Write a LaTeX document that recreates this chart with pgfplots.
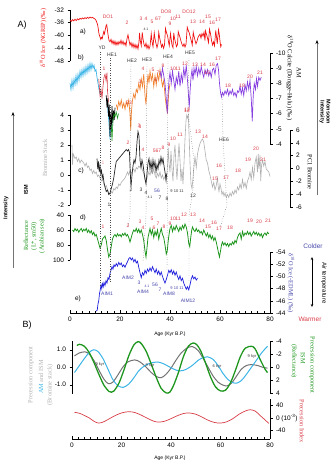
\documentclass[border=0pt]{standalone}
\usepackage{fontspec}
\setmainfont{Liberation Sans}
\newfontfamily\serif{Liberation Serif}
\usepackage{pgfplots}
\pgfplotsset{compat=1.18}
\usetikzlibrary{arrows.meta}
\definecolor{ngrip}{RGB}{240,20,20}
\definecolor{lblred}{RGB}{215,60,70}
\definecolor{cyanb}{RGB}{60,180,230}
\definecolor{orangec}{RGB}{240,130,50}
\definecolor{purplec}{RGB}{135,65,225}
\definecolor{greenc}{RGB}{30,150,30}
\definecolor{bluee}{RGB}{30,30,220}
\definecolor{grayb}{RGB}{175,175,175}
\definecolor{aimlbl}{RGB}{70,70,170}
\definecolor{grayB}{RGB}{115,115,115}
\pgfplotsset{
 base0/.style={scale only axis, width=200pt, xmin=0, xmax=80, clip=false,
   anchor=south west, tick align=outside, major tick length=2.5pt,
   every tick label/.append style={font=\fontsize{6.5}{7}\selectfont},
   /pgf/number format/assume math mode=true,
   axis line style={line width=0.5pt}, every tick/.style={black, line width=0.5pt}},
 base/.style={base0, hide x axis},
 xonly/.style={base0, height=20pt, ymin=0, ymax=1, hide y axis, axis x line*=bottom, xtick={0,20,...,80}, minor x tick num=7, tick align=inside, major tick length=3pt, minor tick length=2pt, xtick pos=bottom},
}
\newcommand{\lb}[3]{\node[text=lblred, font=\fontsize{5}{5}\selectfont, inner sep=0pt] at (#1,-#2) {#3};}
\newcommand{\kb}[3]{\node[text=black!80, font=\fontsize{5}{5}\selectfont, inner sep=0pt] at (#1,-#2) {#3};}
\newcommand{\ab}[3]{\node[text=aimlbl, font=\fontsize{5}{5}\selectfont, inner sep=0pt] at (#1,-#2) {#3};}
\begin{document}
\begin{tikzpicture}[x=1pt,y=1pt]
\path[use as bounding box] (0pt,0pt) rectangle (334pt,-463pt);
% ---------- a) NGRIP
\begin{axis}[base, at={(70pt,-61pt)}, height=51pt, ymin=-48, ymax=-32, axis y line*=left, ytick={-48,-44,-40,-36,-32}]
\addplot[ngrip, line width=0.7pt] coordinates {
(0,-35.2)(0.5,-35.6)(1,-35.0)(1.5,-35.4)(2,-34.9)(2.5,-35.3)(3,-34.8)(3.5,-35.1)(4,-34.6)(4.5,-34.9)(5,-34.5)(5.5,-34.8)(6,-34.4)(6.5,-34.7)(7,-34.3)(7.5,-34.6)(8,-34.2)(8.5,-34.5)(9,-34.3)(9.5,-34.6)(10,-34.8)(10.5,-35.4)(11,-36.5)(11.3,-37.8)(11.6,-39.5)(12,-40.5)(12.3,-41.2)(12.6,-40.6)(12.9,-41.0)(13.2,-39.8)(13.5,-38.8)(13.8,-39.5)(14.1,-38.2)(14.4,-37.0)(14.7,-36.6)(15,-38.5)(15.3,-40.2)(15.6,-41.5)(16,-42.0)(16.4,-41.2)(16.8,-42.5)(17.2,-41.6)(17.6,-42.8)(18,-41.8)(18.4,-43.0)(18.8,-42.0)(19.2,-42.9)(19.6,-41.9)(20,-42.6)(20.4,-41.5)(20.8,-42.7)(21.2,-41.8)(21.6,-42.9)(22,-42.2)(22.4,-43.2)(22.8,-41.0)(23.2,-39.8)(23.6,-41.5)(24,-43.0)(24.4,-42.2)(24.8,-43.6)(25.2,-42.5)(25.6,-43.8)(26,-42.8)(26.4,-44.0)(26.8,-43.0)(27.2,-44.2)(27.6,-42.0)(27.8,-39.2)(28.1,-41.5)(28.5,-43.2)(28.9,-39.0)(29.2,-41.0)(29.6,-42.8)(30,-43.5)(30.4,-42.4)(30.8,-44.0)(31.2,-43.0)(31.6,-44.2)(32,-43.4)(32.5,-39.5)(32.8,-41.8)(33.2,-43.5)(33.7,-39.2)(34.0,-41.0)(34.4,-42.5)(34.8,-43.8)(35.2,-42.6)(35.5,-39.0)(35.8,-40.5)(36.2,-42.0)(36.6,-43.6)(37,-42.8)(37.4,-44.0)(37.8,-43.0)(38.2,-37.8)(38.5,-38.8)(38.8,-39.6)(39.1,-40.4)(39.4,-42.0)(39.7,-43.2)(40.2,-39.4)(40.5,-41.2)(40.8,-43.0)(41.2,-43.8)(41.5,-39.2)(41.8,-40.8)(42.2,-42.2)(42.6,-43.5)(43.0,-42.8)(43.3,-38.8)(43.6,-39.6)(44.0,-40.6)(44.4,-41.8)(44.8,-42.8)(45.2,-43.4)(45.6,-42.6)(46.0,-43.6)(46.4,-42.8)(46.9,-37.4)(47.3,-38.4)(47.7,-39.2)(48.1,-40.4)(48.5,-41.6)(48.9,-43.0)(49.3,-39.0)(49.6,-40.2)(50.0,-41.5)(50.4,-42.6)(50.8,-41.8)(51.2,-40.6)(51.6,-40.0)(52.0,-39.6)(52.4,-40.8)(52.8,-39.4)(53.2,-40.2)(53.6,-39.0)(54.0,-41.6)(54.2,-38.6)(54.6,-39.6)(55.0,-40.8)(55.4,-42.2)(55.8,-38.0)(56.2,-39.4)(56.6,-41.5)(57.0,-43.0)(57.4,-42.0)(57.8,-43.2)(58.3,-38.4)(58.6,-40.4)(58.9,-42.6)(59.2,-40.0)(59.4,-38.2)(59.7,-39.5)(60.0,-41.8)(60.3,-43.5)(60.6,-42.8)};
\end{axis}
% ---------- b) Dongge-Hulu
\begin{axis}[base, at={(70pt,-144pt)}, height=91pt, ymin=-10, ymax=-4, y dir=reverse, axis y line*=right, ytick={-10,-9,...,-4}]
\addplot[cyanb, line width=0.7pt] coordinates {
(0,-8.0)(0.4,-7.6)(0.8,-8.2)(1.2,-7.7)(1.6,-8.3)(2,-7.9)(2.4,-8.5)(2.8,-8.0)(3.2,-8.6)(3.6,-8.2)(4,-8.8)(4.4,-8.4)(4.8,-8.9)(5.2,-8.5)(5.6,-9.0)(6,-8.6)(6.4,-9.1)(6.8,-8.7)(7.2,-9.2)(7.6,-8.8)(8,-9.3)(8.4,-8.9)(8.8,-9.3)(9.2,-9.0)(9.6,-9.2)(10,-8.8)(10.4,-8.9)(10.8,-8.4)(11.2,-8.0)(11.6,-7.6)(12,-7.3)};
\addplot[cyanb, line width=0.6pt] coordinates {(14.8,-7.0)(15.0,-6.5)(15.5,-5.5)(16.0,-4.3)(16.3,-5.2)(16.6,-4.8)(17,-5.8)};
\addplot[lblred, line width=0.6pt] coordinates {(11.5,-8.3)(12,-7.2)(12.4,-7.6)(12.8,-7.0)(13.2,-7.8)(13.6,-8.4)(14,-8.6)(14.4,-8.2)(14.8,-8.7)(15,-7.5)(15.4,-6.8)};
\addplot[orangec, line width=0.7pt] coordinates {
(18.5,-6.6)(19,-6.3)(19.5,-6.8)(20,-6.5)(20.5,-6.9)(21,-6.4)(21.5,-6.7)(22,-6.3)(22.5,-6.8)(23,-6.5)(23.5,-6.9)(24,-6.0)(24.3,-4.9)(24.6,-6.2)(25,-6.9)(25.5,-7.3)(26,-7.0)(26.5,-7.6)(27,-7.4)(27.5,-8.0)(28,-7.6)(28.5,-8.3)(29,-7.8)(29.5,-8.6)(30,-7.2)(30.4,-6.6)(30.8,-7.8)(31.2,-8.6)(31.6,-8.0)(32,-8.8)(32.5,-8.2)(33,-8.6)(33.5,-7.8)(34,-8.5)(34.5,-7.9)(35,-8.6)(35.5,-8.2)(36,-8.9)(36.5,-8.3)(37,-7.8)(37.5,-8.2)(38,-7.2)(38.5,-6.5)(39,-6.1)(39.5,-7.4)(40,-8.0)};
\addplot[purplec, line width=0.7pt] coordinates {
(36,-8.8)(36.5,-8.4)(37,-9.0)(37.5,-8.5)(38,-8.0)(38.5,-7.0)(38.9,-6.0)(39.2,-7.2)(39.6,-8.2)(40,-8.7)(40.5,-8.0)(41,-8.8)(41.5,-8.2)(42,-7.6)(42.5,-8.4)(43,-8.0)(43.5,-8.8)(44,-7.8)(44.5,-8.6)(45,-8.1)(45.5,-9.0)(46,-8.4)(46.5,-9.2)(47,-8.2)(47.4,-7.2)(47.7,-6.4)(48.0,-7.4)(48.4,-8.4)(48.8,-8.9)(49.2,-8.2)(49.6,-9.0)(50,-8.6)(50.5,-9.1)(51,-8.5)(51.5,-9.0)(52,-8.6)(52.5,-9.1)(53,-8.7)(53.5,-8.4)(54,-8.9)(54.5,-8.6)(55,-8.9)(55.5,-8.5)(56,-8.8)(56.5,-8.4)(57,-8.9)(57.5,-9.0)(58,-8.6)(58.5,-9.2)(59,-9.3)(59.4,-8.9)(59.8,-8.0)(60.2,-7.4)(60.6,-7.1)(61,-7.4)(61.5,-7.2)(62,-7.5)(62.5,-7.3)(63,-7.6)(63.5,-7.2)(64,-7.5)(64.5,-7.3)(65,-7.6)(65.5,-7.2)(66,-7.4)(66.5,-7.1)(67,-7.5)(67.5,-7.4)(68,-7.8)(68.5,-7.3)(69,-7.7)(69.5,-7.2)(70,-7.9)(70.5,-7.5)(71,-8.1)(71.5,-7.6)(72,-8.2)(72.5,-7.0)(72.9,-5.5)(73.3,-7.2)(73.7,-8.0)(74.2,-7.6)(74.6,-8.3)(75,-7.8)(75.5,-8.4)(76,-8.2)(76.5,-8.4)};
\addplot[black, line width=0.7pt] coordinates {(14.5,-7.2)(14.8,-6.4)(15.1,-7.0)(15.4,-5.8)(15.7,-6.6)(16.0,-4.5)(16.2,-6.0)(16.5,-5.0)(16.8,-6.5)(17.1,-5.4)(17.4,-6.2)(17.7,-5.6)(18,-6.4)};
\addplot[greenc, line width=0.6pt] coordinates {(16.5,-5.2)(16.8,-4.2)(17.2,-5.6)(17.6,-6.0)(18,-5.8)(18.5,-6.1)(19,-5.7)(19.4,-6.0)};
\end{axis}
% ---------- c) Bromine
\begin{axis}[base, at={(70pt,-205pt)}, height=90pt, ymin=-2, ymax=4, axis y line*=left, ytick={-2,-1,...,4}]
\addplot[grayb, line width=0.6pt] coordinates {
(0.8,2.0)(1.0,0.7)(1.3,1.4)(2,1.1)(2.5,1.2)(3,0.9)(3.5,1.1)(4,0.8)(4.5,1.0)(5,0.9)(5.5,0.8)(6,0.6)(6.5,0.8)(7,0.5)(7.5,0.6)(8,0.3)(8.5,0.4)(9,0.1)(9.5,0.3)(10,0.1)(10.5,0.2)(11,-0.1)(11.5,0.0)(12,-0.2)(12.5,-0.4)(13,-0.3)(13.5,-0.6)(14,-0.8)(14.5,-0.7)(15,-1.0)(15.5,-1.2)(16,-1.3)(16.5,-1.1)(17,-1.2)(17.5,-0.9)(18,-1.0)(18.5,-0.8)(19,-0.9)(19.5,-0.6)(20,-0.7)(20.5,-0.5)(21,-0.4)(21.5,-0.3)(22,-0.2)(22.5,0.0)(23,0.2)(23.5,0.0)(24,0.3)(24.5,0.1)(25,0.3)(25.5,0.4)(26,0.2)(26.5,0.5)(27,0.4)(27.5,0.6)(28,0.5)(28.5,0.7)(29,0.3)(29.5,0.1)(30,-0.2)(30.5,-0.4)(31,-0.1)(31.5,0.2)(32,0.0)(32.5,0.3)(33,0.1)(33.5,0.4)(34,0.0)(34.5,-0.2)(35,0.1)(35.5,-0.1)(36,0.2)(36.5,-0.2)(37,0.0)(37.5,-0.3)(38,-0.1)(38.5,-0.5)(39,0.6)(39.3,1.8)(39.6,0.8)(40,0.2)(40.4,1.6)(40.8,0.4)(41.2,-0.4)(41.6,1.3)(42,2.0)(42.4,0.6)(42.8,-0.3)(43.2,1.0)(43.6,2.1)(44,1.0)(44.4,-0.4)(44.8,0.4)(45.2,-0.6)(45.6,0.8)(46,2.4)(46.4,3.6)(46.7,4.0)(47,3.8)(47.3,4.0)(47.6,2.8)(48,0.8)(48.4,-0.6)(48.8,-0.9)(49.2,-0.2)(49.6,0.6)(50,1.2)(50.5,0.5)(51,1.4)(51.5,1.8)(52,2.1)(52.5,2.3)(53,2.4)(53.5,2.2)(54,1.6)(54.5,1.0)(55,0.8)(55.5,0.3)(56,0.0)(56.5,-0.4)(57,-0.8)(57.5,-0.5)(58,-1.0)(58.5,-0.7)(59,-0.2)(59.3,-0.8)(59.6,-1.1)(60,-0.6)(60.4,-0.9)(60.8,-1.3)(61.2,-1.1)(61.6,-1.4)(62,-1.2)(62.5,-1.5)(63,-1.3)(63.5,-1.5)(64,-1.2)(64.5,-1.4)(65,-1.1)(65.5,-1.3)(66,-1.0)(66.5,-1.2)(67,-0.8)(67.5,-1.0)(68,-0.6)(68.5,-0.9)(69,-0.3)(69.5,-0.8)(70,-0.5)(70.5,-0.9)(71,-0.4)(71.5,-0.2)(72,0.2)(72.5,-0.3)(73,0.5)(73.5,-0.2)(74,0.8)(74.5,1.2)(75,0.2)(75.3,1.4)(75.6,0.4)(76,1.3)(76.3,-0.4)(76.6,0.6)(77,1.0)(77.5,0.6)(78,0.9)(78.5,0.4)(79,0.3)(79.5,0.2)(80,-0.1)};
\addplot[black!85, line width=0.7pt] coordinates {
(10.8,1.1)(11.1,0.4)(11.4,0.9)(11.7,0.2)(12.0,0.6)(12.3,0.1)(12.6,0.3)(12.9,-0.2)(13.2,0.0)(13.6,-0.5)(14,-0.8)(14.5,-1.1)(15,-1.0)(15.5,-1.3)(16,-1.2)(16.5,-0.9)(17,-0.6)(17.5,-0.2)(18,0.4)(18.5,0.9)(19,1.0)(19.5,1.1)(20,1.2)(20.5,1.3)(21,1.4)(21.5,1.5)(22,1.6)(22.5,1.7)(23,1.6)(23.4,1.7)(23.8,1.5)(24.1,0.2)(24.4,-0.8)(24.8,0.0)(25.2,0.6)(25.6,1.0)(26,0.8)(26.4,1.2)(26.8,2.2)(27.2,2.9)(27.6,2.6)(28,1.0)(28.4,0.5)(28.8,1.0)(29.2,0.7)(29.6,0.2)(30,-0.3)(30.4,-0.6)(30.8,0.1)(31.2,0.8)(31.6,1.1)(32,0.4)(32.4,0.9)(32.8,0.3)(33.2,1.0)(33.6,0.5)(34,0.9)(34.4,0.2)(34.8,0.7)(35.2,0.4)(35.6,1.0)(36,0.7)(36.4,1.2)(36.8,0.8)(37.2,1.1)(37.6,0.6)(38,0.2)(38.4,-0.3)(38.7,0.1)};
\end{axis}
\begin{axis}[base, at={(70pt,-207pt)}, width=220pt, xmax=88, height=77pt, ymin=-6, ymax=6, axis y line*=right, ytick={-6,-4,...,6}]
\end{axis}
% ---------- d) Reflectance
\begin{axis}[base, at={(70pt,-260pt)}, height=45pt, ymin=40, ymax=100, y dir=reverse, axis y line*=left, ytick={40,60,80,100}]
\addplot[greenc, line width=0.8pt] coordinates {
(1,60)(1.5,62)(2,58)(2.5,61)(3,59)(3.5,63)(4,60)(4.5,58)(5,62)(5.5,59)(6,61)(6.5,58)(7,63)(7.5,60)(8,64)(8.5,61)(9,66)(9.5,63)(10,68)(10.5,66)(11,72)(11.5,78)(12,84)(12.5,80)(13,72)(13.5,70)(14,68)(14.5,74)(15,86)(15.5,96)(16,92)(16.5,82)(17,72)(17.5,68)(18,66)(18.5,69)(19,65)(19.5,68)(20,66)(20.5,69)(21,65)(21.5,67)(22,64)(22.5,68)(23,66)(23.5,70)(24,76)(24.5,70)(25,64)(25.5,60)(26,62)(26.5,58)(27,63)(27.5,59)(28,64)(28.5,60)(29,66)(29.5,74)(30,88)(30.4,96)(30.8,84)(31.2,70)(31.6,64)(32,58)(32.5,66)(33,60)(33.5,70)(34,62)(34.5,67)(35,60)(35.5,72)(36,64)(36.5,58)(37,66)(37.5,70)(38,80)(38.5,92)(38.9,88)(39.3,74)(39.7,64)(40,58)(40.5,54)(41,62)(41.5,56)(42,60)(42.5,54)(43,58)(43.5,62)(44,56)(44.5,60)(45,54)(45.5,58)(46,52)(46.5,56)(47,64)(47.5,78)(47.9,82)(48.3,70)(48.7,60)(49,56)(49.5,60)(50,62)(50.5,58)(51,62)(51.5,60)(52,64)(52.5,62)(53,66)(53.5,60)(54,64)(54.5,68)(55,64)(55.5,70)(56,66)(56.5,72)(57,68)(57.5,74)(58,70)(58.5,76)(59,84)(59.5,92)(59.8,96)(60.2,88)(60.6,80)(61,76)(61.5,80)(62,77)(62.5,81)(63,78)(63.5,82)(64,78)(64.5,80)(65,76)(65.5,79)(66,74)(66.5,77)(67,70)(67.5,66)(68,64)(68.5,72)(69,62)(69.5,68)(70,64)(70.5,66)(71,62)(71.5,66)(72,63)(72.5,68)(73,65)(73.5,62)(74,66)(74.5,63)(75,67)(75.5,64)(76,68)(76.5,65)(77,70)(77.5,66)(78,64)(78.5,67)(79,63)(79.5,65)};
\end{axis}
% ---------- e) EDML
\begin{axis}[base, at={(70pt,-313pt)}, height=61pt, ymin=-54, ymax=-44, y dir=reverse, axis y line*=right, ytick={-54,-52,...,-44}]
\addplot[bluee, line width=0.7pt] coordinates {
(10.5,-44.3)(10.9,-44.5)(11.2,-45.5)(11.5,-46.0)(11.8,-47.2)(12.1,-47.8)(12.4,-48.6)(12.7,-48.0)(13,-48.8)(13.3,-48.3)(13.6,-49.0)(14,-48.5)(14.4,-49.3)(14.8,-48.9)(15.2,-49.8)(15.6,-49.5)(16,-50.5)(16.4,-51.0)(16.8,-51.6)(17.2,-51.2)(17.6,-51.9)(18,-51.6)(18.5,-52.1)(19,-51.7)(19.5,-52.3)(20,-51.9)(20.5,-52.2)(21,-51.6)(21.5,-51.9)(22,-51.5)(22.5,-52.0)(23,-52.4)(23.5,-52.9)(24,-53.1)(24.5,-52.7)(25,-53.0)(25.5,-52.4)(26,-52.8)(26.5,-52.2)(27,-52.5)(27.5,-51.5)(28,-50.6)(28.5,-49.8)(29,-50.6)(29.5,-50.2)(30,-51.0)(30.5,-50.5)(31,-51.2)(31.5,-50.8)(32,-51.4)(32.5,-50.9)(33,-51.6)(33.5,-51.1)(34,-50.6)(34.5,-51.2)(35,-50.4)(35.5,-50.9)(36,-50.2)(36.5,-50.7)(37,-50.0)(37.5,-49.4)(38,-48.9)(38.5,-49.5)(39,-50.2)(39.5,-51.0)(40,-50.6)(40.5,-51.1)(41,-50.4)(41.5,-50.9)(42,-50.2)(42.5,-50.7)(43,-50.0)(43.5,-49.5)(44,-50.1)(44.5,-49.3)(45,-49.7)(45.5,-48.9)(46,-48.4)(46.5,-47.9)(47,-48.3)(47.5,-47.8)(48,-48.6)(48.5,-49.6)(49,-50.1)(49.5,-49.6)(50,-49.9)(50.5,-49.4)(51,-49.7)};
\end{axis}
% ---------- A x axis
\begin{axis}[xonly, at={(70pt,-313pt)}]
\addplot[draw=none] coordinates {(0,0)(80,1)};
\end{axis}
% ---------- B upper
\begin{axis}[base, at={(72pt,-393.5pt)}, width=198pt, height=52.5pt, ymin=-1.5, ymax=1.5, axis y line*=left, ytick={-1,0,1}, yticklabels={-1.0,0.0,1.0}]
\addplot[grayB, line width=1pt, smooth] coordinates {(1,0.65)(3,0.82)(5.3,0.88)(7,0.75)(9,0.35)(11,-0.2)(13,-0.7)(14.7,-0.94)(16.5,-0.85)(18.5,-0.45)(20.5,0.0)(22.5,0.3)(25.3,0.42)(27.5,0.3)(30,0.0)(32,-0.3)(34,-0.52)(36,-0.6)(38,-0.4)(40,-0.05)(42,0.4)(44,0.8)(46.5,1.1)(48.7,1.18)(51,0.95)(53,0.5)(55,0.0)(57,-0.5)(59,-0.85)(61,-1.02)(62.7,-1.06)(64.5,-0.9)(66.5,-0.5)(68.5,-0.1)(70.5,0.1)(72.5,0.15)(75,0.1)(77,0.0)(79,-0.05)};
\addplot[cyanb, line width=1pt, smooth] coordinates {(1,-0.3)(3,0.1)(5,0.5)(7,0.85)(8.7,1.0)(10.5,0.9)(12.5,0.5)(14.5,-0.1)(16.5,-0.7)(18.5,-1.05)(20.7,-1.15)(23,-0.95)(25,-0.6)(27,-0.2)(29,0.05)(31,0.2)(33,0.28)(34.7,0.3)(37,0.2)(39,0.05)(41,-0.1)(43,-0.2)(45,-0.18)(47,-0.05)(49,0.15)(51,0.4)(53,0.55)(54.7,0.6)(57,0.45)(59,0.1)(61,-0.35)(63,-0.7)(65,-0.88)(66.7,-0.9)(68.5,-0.75)(70.5,-0.4)(72.5,0.0)(74.5,0.4)(76.5,0.8)(78,1.05)(79,1.2)};
\end{axis}
\begin{axis}[base, at={(72pt,-393.5pt)}, width=198pt, height=52.5pt, ymin=-4, ymax=4, y dir=reverse, axis y line*=right, ytick={-4,-2,...,4}]
\addplot[greenc, line width=1.3pt, smooth] coordinates {(2,-3.3)(3,-3.5)(5,-3.2)(7,-2.2)(9,-0.6)(11,1.2)(13,2.8)(15,3.7)(16,3.8)(17,3.6)(19,2.4)(21,0.4)(23,-1.8)(25,-3.4)(26.7,-3.9)(28,-3.6)(30,-2.4)(32,-0.5)(34,1.5)(36,3.2)(38,3.9)(39.5,3.8)(41,2.8)(43,0.8)(45,-1.6)(47,-3.2)(49,-3.7)(50.5,-3.4)(52,-2.5)(54,-0.6)(56,1.5)(58,3.0)(60,3.6)(62,3.5)(64,2.4)(66,0.5)(68,-1.6)(70,-2.9)(72.5,-3.2)(74,-2.8)(76,-1.2)(78,0.3)(79,0.8)};
\end{axis}
% ---------- B lower: precession index
\begin{axis}[base, at={(72pt,-437pt)}, width=198pt, height=38pt, ymin=-60, ymax=60, axis y line*=right, ytick={-40,0,40}, yticklabels={-40,{0 (10\textsuperscript{-3})},40}]
\addplot[lblred, line width=0.7pt, smooth] coordinates {(1,18)(3,15)(5,8)(7,0)(9,-11)(10.7,-16)(12.5,-13)(14.5,-5)(17,6)(20,16)(23,20)(25.5,17)(28,9)(30.5,-1)(33,-10)(35,-13)(37.5,-10)(40,-2)(42.5,7)(45,14)(47.3,16)(50,12)(52.5,3)(55,-7)(57.5,-14)(60,-16)(62.5,-12)(65,-2)(67.5,12)(70,22)(72,26)(74,22)(76,8)(78,-6)(79.5,-17)};
\end{axis}
\begin{axis}[xonly, at={(72pt,-439pt)}, width=198pt]
\addplot[draw=none] coordinates {(0,0)(80,1)};
\end{axis}
% ---------- dotted event lines
\begin{scope}[dotted, black!70, line width=0.45pt]
\draw (100,-52) -- (100,-285);
\draw (110,-58) -- (110,-283);
\draw (131,-64) -- (130,-215) -- (128,-228);
\draw (147,-64) -- (146,-215) -- (143,-262);
\draw (168,-61) -- (167,-270);
\draw (189,-58) -- (188,-112) -- (194,-160) -- (193,-190) -- (189,-215) -- (189,-282);
\draw (222,-92) -- (223,-140) -- (226,-190) -- (227,-205) -- (220,-228);
\end{scope}
% ---------- event labels
\kb{102}{48}{YD}\kb{112}{55}{HE1}\kb{132}{61}{HE2}\kb{147}{60}{HE3}\kb{168}{57}{HE4}\kb{190}{53}{HE5}\kb{224}{140}{HE6}
\lb{108}{17}{DO1}\lb{127}{23}{2}\lb{141}{19}{3}\lb{146}{19}{4}\lb{152}{22}{5}\lb{158}{19}{67}\lb{166}{12}{DO8}\lb{170}{24}{9}\lb{173}{18.5}{10}\lb{178}{17}{11}\lb{189}{12}{DO12}\lb{193}{22}{13}\lb{202}{22}{14}\lb{208}{17}{15}\lb{212}{23}{16}\lb{218}{20}{17}\kb{146}{29}{\fontsize{3.5}{4}\selectfont 4.1}
\lb{104}{69}{1}\lb{129}{103}{23}\lb{140}{82}{3}\lb{143}{69}{4}\lb{153}{70}{5}\lb{156}{80}{6}\lb{158}{73}{7}\lb{163}{66}{8}\lb{173}{69}{10}\lb{178}{69}{11}\lb{185}{64}{12}\lb{195}{65}{13}\lb{203}{65}{14}\lb{207}{73}{15}\lb{212}{65}{16}\lb{218}{59}{17}\lb{228}{86}{18}\lb{242}{86}{19}\lb{250}{77}{20}\lb{260}{73}{21}\lb{187}{110}{12}\lb{140}{127}{3}
\node[text=lblred!50, font=\fontsize{5}{5}\selectfont, inner sep=0pt] at (103,-163) {1};
\lb{128}{143}{2}\lb{139}{126}{3}\lb{143}{150}{4}\lb{157}{151}{567}\lb{163}{148}{8}\lb{169}{145}{9}\lb{173}{139}{10}\lb{180}{135}{11}\lb{187}{111}{12}\lb{198}{132}{13}\lb{205}{137}{14}\lb{219}{166}{16}\lb{215}{179}{15}\lb{226}{178}{17}\lb{238}{171}{18}\lb{248}{160}{19}\lb{256}{149}{20}\lb{263}{160}{21}
\kb{109}{205}{1}\kb{131}{190}{2}\kb{141}{190}{3}\kb{146}{193}{4}\kb{150}{197}{\fontsize{3.5}{4}\selectfont 4.1}\ab{157}{191}{56}\kb{160}{198}{7}\kb{167}{199}{8}\kb{177}{191}{\fontsize{4}{4}\selectfont 9 10 11}\kb{193}{196}{12}
\lb{103}{227}{1}\lb{128}{226}{2}\lb{140}{222}{3}\lb{143}{228}{4}\lb{152}{219}{5}\lb{154}{228}{6}\lb{158}{224}{7}\lb{164}{227}{8}\lb{170}{224}{9}\lb{173}{219}{10}\lb{178}{219}{11}\lb{184}{215}{12}\lb{193}{215}{13}\lb{202}{221}{14}\lb{208}{227}{15}\lb{214}{223}{16}\lb{219}{229}{17}\lb{230}{228}{18}\lb{250}{221}{19}\lb{259}{222}{20}\lb{268}{221}{21}
\ab{107}{294}{AIM1}\ab{128}{278}{AIM2}\ab{139}{283}{3}\ab{143}{292}{AIM4}\ab{147}{286}{\fontsize{3.5}{4}\selectfont 4.1}\ab{155}{285}{56}\ab{160}{290}{7}\ab{169}{294}{AIM8}\ab{177}{288}{\fontsize{4}{4}\selectfont 9 10 11}\ab{188}{301}{AIM12}
% ---------- panel letters
\begin{scope}[font=\fontsize{6.5}{7}\selectfont, inner sep=0pt]
\node at (83,-32) {a)};\node at (81,-58) {b)};\node at (81,-171) {c)};\node at (83,-218) {d)};\node at (78,-299) {e)};
\end{scope}
\node[font=\fontsize{9}{9}\selectfont, inner sep=0pt] at (22,-25) {A)};
\node[font=\fontsize{9}{9}\selectfont, inner sep=0pt] at (27,-325) {B)};
% ---------- axis titles
\begin{scope}[font=\serif\fontsize{6.3}{7}\selectfont, inner sep=0pt]
\node[rotate=90, text=ngrip] at (43,-38) {δ\textsuperscript{18}O Ice (NGRIP) (‰)};
\node[rotate=-90] at (290,-78) {δ\textsuperscript{18}O Calcite (Dongge-Hulu) (‰)};
\node[rotate=-90] at (299,-73) {AM};
\node[rotate=90, text=grayb] at (45,-158) {Bromine Stack};
\node[rotate=-90] at (310,-172) {PC1 Bromine};
\node[rotate=90, text=greenc] at (26,-236) {Reflectance};
\node[rotate=90, text=greenc] at (34,-236) {(L*, sm50)};
\node[rotate=90, text=greenc] at (42,-236) {(Arabian sea)};
\node[rotate=-90, text=aimlbl] at (291,-283) {δ\textsuperscript{18}O Ice (-EDML) (‰)};
\node[rotate=90, text=grayb] at (31,-375) {Precession component};
\node[rotate=90, text=grayb] at (41,-377) {\textcolor{cyanb}{AM} and ISM};
\node[rotate=90, text=grayb] at (50,-385) {(Bromine stack)};
\node[rotate=-90, text=greenc] at (312,-365) {Precession component};
\node[rotate=-90, text=greenc] at (303,-358) {ISM};
\node[rotate=-90, text=greenc] at (294,-361) {(Reflectance)};
\node[rotate=-90, text=lblred] at (302,-421) {Precession Index};
\end{scope}
\node[font=\fontsize{5}{5}\selectfont, inner sep=0pt] at (170,-334) {Age (Kyr B.P.)};
\node[font=\fontsize{5}{5}\selectfont, inner sep=0pt] at (170,-458) {Age (Kyr B.P.)};
% ---------- kyr annotations
\begin{scope}[font=\fontsize{4}{4}\selectfont, inner sep=0pt, text=black!80]
\node at (100,-364) {9 kyr};\node at (150,-365) {9 kyr};\node at (217,-366) {6 kyr};\node at (252,-356) {9 kyr};
\end{scope}
% ---------- side arrows
\draw[black!55, line width=0.6pt, -{Stealth[length=4pt,width=3pt,black]}] (317,-195) -- (317,-40);
\node[rotate=-90, font=\bfseries\fontsize{5.5}{6}\selectfont, align=center, inner sep=0pt] at (325,-112) {Monsoon\\Intensity};
\draw[black!55, line width=0.6pt, -{Stealth[length=4pt,width=3pt,black]}] (13,-268) -- (13,-112);
\node[rotate=90, font=\bfseries\fontsize{5.5}{6}\selectfont, inner sep=0pt] at (6,-208) {Intensity};
\node[rotate=90, font=\bfseries\fontsize{5.5}{6}\selectfont, inner sep=0pt] at (26,-190) {ISM};
\draw[black, line width=0.5pt, {Stealth[length=3pt,width=2.5pt]}-{Stealth[length=3pt,width=2.5pt]}] (312,-257) -- (312,-307);
\node[font=\fontsize{6.5}{7}\selectfont, text=aimlbl, inner sep=0pt] at (313,-246) {Colder};
\node[font=\fontsize{6.5}{7}\selectfont, text=lblred, inner sep=0pt] at (310,-319) {Warmer};
\node[rotate=-90, font=\fontsize{6}{6}\selectfont, inner sep=0pt] at (324,-283) {Air temperature};
\end{tikzpicture}
\end{document}
